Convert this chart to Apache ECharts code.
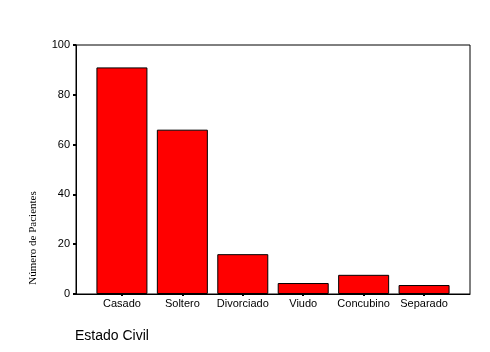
<!DOCTYPE html>
<html>
<head>
  <meta charset="utf-8">
  <title>Estado Civil</title>
  <script src="https://cdn.jsdelivr.net/npm/echarts@6/dist/echarts.min.js"></script>
  <style>
    html, body { margin: 0; padding: 0; background: #fff; }
    #chart { width: 490px; height: 352px; }
  </style>
</head>
<body>
  <div id="chart"></div>
  <script>
    // datos
    var categorias = ['Casado', 'Soltero', 'Divorciado', 'Viudo', 'Concubino', 'Separado'];
    var pacientes = [91, 66, 16, 4.4, 7.7, 3.6];
    var ticksY = [0, 20, 40, 60, 80, 100];

    var posiciones = categorias.map(function (c, i) { return i; });
    var datos = pacientes.map(function (v, i) { return [i, v]; });

    var chart = echarts.init(document.getElementById('chart'));
    chart.setOption({
      backgroundColor: '#FFFFFF',
      animation: false,
      grid: {
        left: 76, right: 20, top: 45, bottom: 58,
        show: true, borderColor: '#000', borderWidth: 1,
        backgroundColor: 'transparent'
      },
      title: {
        text: 'Estado Civil',
        left: 75, top: 329, padding: 0,
        textStyle: { fontFamily: 'Liberation Sans', fontSize: 14, fontWeight: 'normal', color: '#000' }
      },
      graphic: [{
        type: 'text',
        x: 33, y: 238,
        rotation: Math.PI / 2,
        style: {
          text: 'Número de Pacientes',
          font: '11px "Liberation Serif"',
          fill: '#000',
          align: 'center',
          verticalAlign: 'middle'
        }
      }],
      xAxis: {
        type: 'value',
        min: -0.76, max: 5.76,
        splitLine: { show: false },
        axisLine: { show: true, onZero: false, lineStyle: { color: '#000', width: 1 } },
        axisTick: {
          show: true, length: 2, customValues: posiciones,
          lineStyle: { color: '#000', width: 2 }
        },
        axisLabel: {
          customValues: posiciones,
          margin: 4,
          color: '#000',
          fontFamily: 'Liberation Sans',
          fontSize: 11,
          formatter: function (v) { return categorias[Math.round(v)]; }
        }
      },
      yAxis: {
        type: 'value',
        min: 0, max: 100, interval: 20,
        splitLine: { show: false },
        axisLine: { show: true, onZero: false, lineStyle: { color: '#000', width: 1 } },
        axisTick: { show: true, length: 3, lineStyle: { color: '#000', width: 2 } },
        axisLabel: {
          customValues: ticksY,
          margin: 6,
          color: '#000',
          fontFamily: 'Liberation Sans',
          fontSize: 11
        }
      },
      series: [{
        type: 'bar',
        data: datos,
        barWidth: 51,
        itemStyle: { color: '#FF0000', borderColor: '#000', borderWidth: 1 }
      }]
    });
  </script>
</body>
</html>
